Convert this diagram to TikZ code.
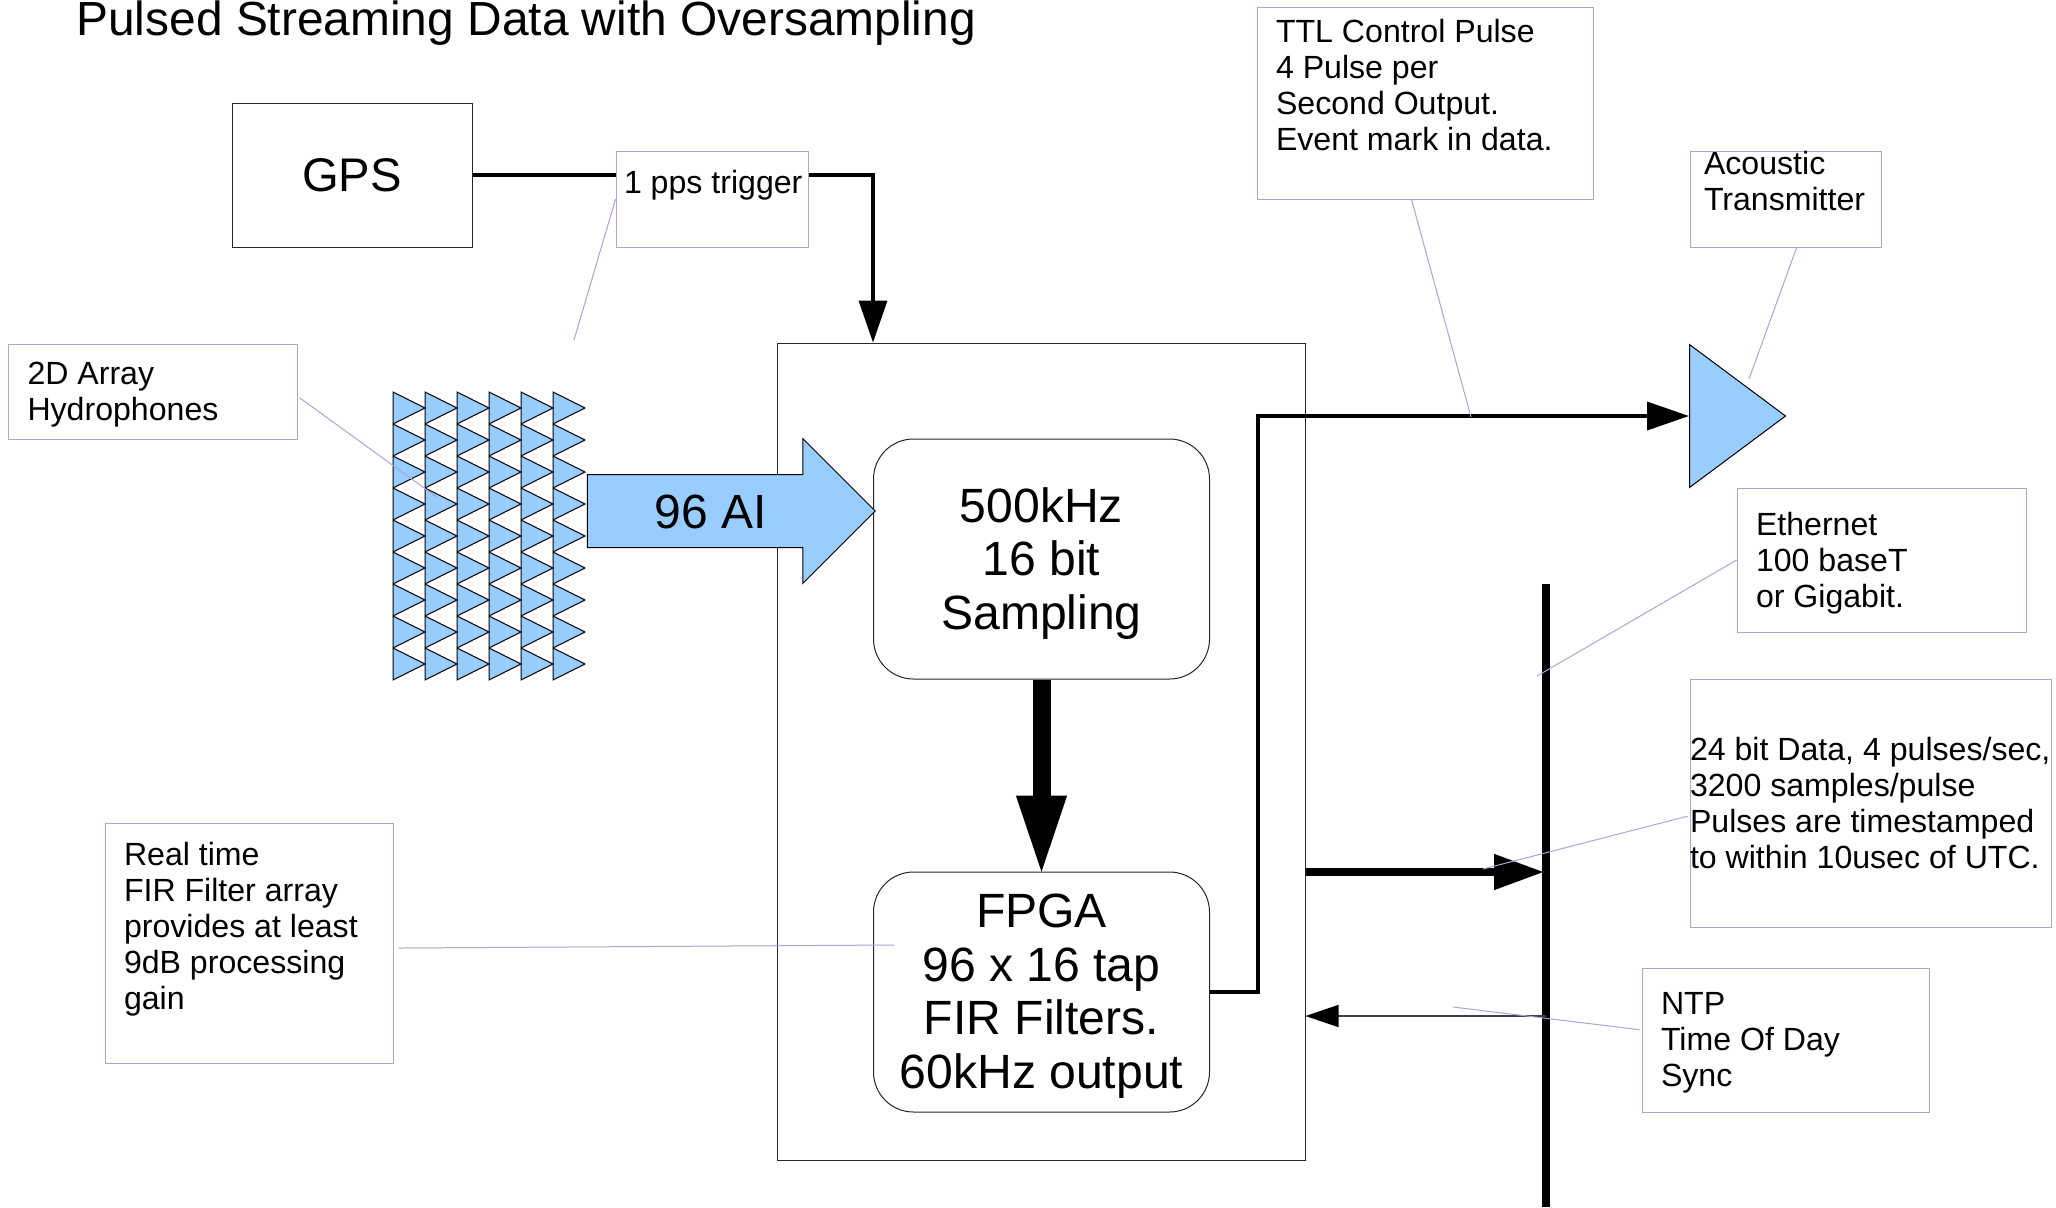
\documentclass[tikz,border=0pt]{standalone}
\usepackage{fontspec}
\setmainfont{Liberation Sans}
\usepackage{tikz}
\usetikzlibrary{arrows.meta}
\usetikzlibrary{positioning}
\usetikzlibrary{shapes.geometric,shapes.arrows}
\definecolor{hydroblue}{HTML}{99CCFF}
\definecolor{notecol}{HTML}{A6A6D9}
\tikzset{
	note/.style n args={4}{draw=notecol, fill=white, inner sep=0pt, align=flush left,
		minimum width=#1*0.5pt, text width=#3*0.5pt,
		text height=#4*0.5pt, text depth=(#2-#4)*0.5pt, font=\fontsize{16.05}{18}\selectfont},
	block/.style={draw=black!85, line width=0.5pt, fill=white, rounded corners=20pt, align=flush center,
		inner sep=0pt, minimum width=168pt, text width=160pt, text height=#1, text depth=120pt-#1,
		font=\fontsize{24.05}{26.9}\selectfont},
	wire/.style={draw=black, line width=1.8pt, -{Triangle[length=21pt,width=14pt]}},
	noteline/.style={draw=notecol, line width=0.5pt},
	hydro/.style={draw=black, line width=0.5pt, fill=hydroblue},
}
\begin{document}
\begin{tikzpicture}[x=0.5pt,y=-0.5pt]
	\useasboundingbox (0,0) rectangle (2056,1207);
	\node[anchor=base west, inner sep=0pt, font=\fontsize{23.94}{28}\selectfont] (title) at (76,35) {Pulsed Streaming Data with Oversampling};
	% main chassis
	\node[draw=black!85, line width=0.5pt, minimum width=264pt, minimum height=408.5pt] (chassis) at (1041,751.5) {};
	\node[block=41.5pt] (sampler) at (1041.5,559) {500kHz\\16 bit\\Sampling};
	\node[block=27.6pt] (fpga) at (1041.5,992) {FPGA\\96 x 16 tap\\FIR Filters.\\60kHz output};
	\node[draw=black!85, line width=0.5pt, minimum width=120pt, minimum height=72pt, font=\fontsize{23.6}{27}\selectfont] (gps) at (352,175) {GPS};
	% hydrophones
	\foreach \x in {0,...,5}
		\foreach \y in {0,...,8}
			\draw[hydro] (393+32*\x,392+32*\y) -- ++(32,16) -- ++(-32,16) -- cycle;
	\node[single arrow, draw=black, line width=0.5pt, fill=hydroblue, single arrow tip angle=90,
		single arrow head extend=18pt, minimum width=72pt, minimum height=144pt, inner sep=0pt,
		text height=26.5pt, text depth=9.5pt,
		font=\fontsize{24}{27}\selectfont] (ai) at (713,511) {96 AI\kern2pt};
	\node[isosceles triangle, isosceles triangle stretches, draw=black, line width=0.5pt, fill=hydroblue, inner sep=0pt,
		minimum width=71.5pt, minimum height=48pt, anchor=lower side] (xmit) at (1689,416) {};
	% connections
	\coordinate (bustop) at (1546,584);
	\coordinate (busbot) at (1546,1207);
	\coordinate (busin) at (1544,872);
	\coordinate (busout) at (1546,1016);
	\draw[wire] (gps.east) -| (sampler.west |- chassis.north);
	\draw[wire] (fpga.east) -- ++(48,0) |- (xmit.lower side);
	\draw[draw=black, line width=9pt, shorten >=-3pt, -{Triangle[length=41pt,width=22.5pt]}] (sampler) -- (fpga);
	\draw[draw=black, line width=4pt] (bustop) -- (busbot);
	\draw[draw=black, line width=4pt, -{Triangle[length=25pt,width=17pt]}] (chassis.east |- busin) -- (busin);
	\draw[draw=black!75, line width=0.8pt, -{Triangle[length=16.5pt,width=11pt,black]}] (busout) -- (chassis.east |- busout);
	% notes
	\node[note={192}{96}{176}{42}, inner xsep=4pt] (pps) at (712,199) {\mbox{1 pps trigger}};
	\node[note={336}{192}{298}{35}, inner xsep=9.5pt] (ttl) at (1425,103) {TTL Control Pulse\\4 Pulse per\\Second Output.\\Event mark in data.};
	\node[note={191}{96}{163}{23}, inner xsep=7pt] (acoustic) at (1785.5,199) {Acoustic\\Transmitter};
	\node[note={288}{95}{251}{40}, inner xsep=9.5pt] (array) at (153,391.5) {2D Array\\Hydrophones};
	\node[note={289}{144}{251}{47}, inner xsep=9.5pt] (ether) at (1881.5,560) {Ethernet\\100 baseT\\or Gigabit.};
	\node[note={361}{248}{361}{81}, inner xsep=0pt] (data) at (1870.5,803) {\mbox{24 bit Data, 4 pulses/sec,}\\3200 samples/pulse\\Pulses are timestamped\\\mbox{to within 10usec of UTC.}};
	\node[note={287}{144}{249}{46}, inner xsep=9.5pt] (ntp) at (1785.5,1040) {NTP\\Time Of Day\\Sync};
	\node[note={288}{240}{250}{42}, inner xsep=9.5pt] (fir) at (249,943) {Real time\\FIR Filter array\\provides at least\\9dB processing\\gain};
	% note leaders
	\coordinate (ppsend) at (574,340);
	\coordinate (ttlend) at (1471,417);
	\coordinate (acousticend) at (1749,379);
	\coordinate (arrayend) at (438,498);
	\coordinate (etherend) at (1537,676);
	\coordinate (dataend) at (1483,869);
	\coordinate (ntpend) at (1453,1007);
	\coordinate (firend) at (894,945);
	\draw[noteline] (pps.west) -- (ppsend);
	\draw[noteline] (ttl.262) -- (ttlend);
	\draw[noteline] (acoustic.283) -- (acousticend);
	\draw[noteline, shorten <=1pt] (array.358) -- (arrayend);
	\draw[noteline] (ether.west) -- (etherend);
	\draw[noteline, shorten <=1pt] (data.184) -- (dataend);
	\draw[noteline, shorten <=1pt] (ntp.176) -- (ntpend);
	\draw[noteline, shorten <=2.5pt] (fir.358) -- (firend);
\end{tikzpicture}
\end{document}
